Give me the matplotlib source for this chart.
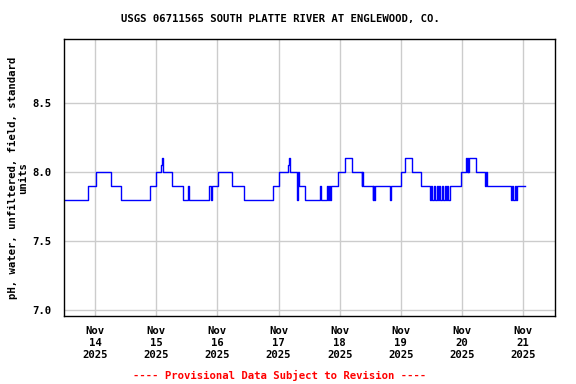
import matplotlib
matplotlib.use("Agg")
import matplotlib.pyplot as plt
import numpy as np

# step change points: hours after Nov 14 2025 00:00, pH value from that time on
hours = [-12.0, -2.6, 0.4, 6.3, 10.0, 21.7, 23.8, 26.0, 26.2, 26.5, 30.0, 34.6,
         36.4, 36.7, 44.8, 45.6, 45.8, 48.4, 53.7, 58.5, 69.9, 72.3, 75.9, 76.2,
         76.5, 79.2, 79.4, 79.6, 79.9, 82.4, 88.3, 88.6, 90.9, 91.5, 91.8, 92.1,
         92.5, 95.4, 98.2, 100.9, 104.6, 104.9, 105.2, 108.9, 109.2, 109.4, 109.9,
         115.7, 116.0, 119.9, 121.8, 124.3, 127.8,
         131.4, 132.0, 132.3, 133.0, 133.4, 134.2, 134.5, 135.1, 135.5, 136.3,
         136.6, 137.4, 137.7, 138.2, 138.7, 139.3, 140.0,
         143.7, 145.5, 145.9, 146.2, 146.5, 146.8, 149.5, 153.0, 153.3, 153.8,
         163.4, 163.8, 164.1, 164.7, 165.0, 165.6, 168.6]
ph = [7.8, 7.9, 8.0, 7.9, 7.8, 7.9, 8.0, 8.05, 8.1, 8.0, 7.9, 7.8,
      7.9, 7.8, 7.9, 7.8, 7.9, 8.0, 7.9, 7.8, 7.9, 8.0, 8.05, 8.1,
      8.0, 7.9, 7.8, 8.0, 7.9, 7.8, 7.9, 7.8, 7.9, 7.8, 7.9, 7.8,
      7.9, 8.0, 8.1, 8.0, 7.9, 8.0, 7.9, 7.8, 7.9, 7.8, 7.9,
      7.8, 7.9, 8.0, 8.1, 8.0, 7.9,
      7.8, 7.9, 7.8, 7.9, 7.8, 7.9, 7.8, 7.9, 7.8, 7.9,
      7.8, 7.9, 7.8, 7.9, 7.8, 7.9, 7.9,
      8.0, 8.1, 8.0, 8.1, 8.0, 8.1, 8.0, 7.9, 8.0, 7.9,
      7.8, 7.9, 7.8, 7.9, 7.8, 7.9, 7.9]

day_labels = ["Nov\n14\n2025", "Nov\n15\n2025", "Nov\n16\n2025", "Nov\n17\n2025",
              "Nov\n18\n2025", "Nov\n19\n2025", "Nov\n20\n2025", "Nov\n21\n2025"]
y_ticks = [7.0, 7.5, 8.0, 8.5]

mono = "DejaVu Sans Mono"
fs = 7.7
fig = plt.figure(figsize=(5.76, 3.84), dpi=100)
ax = fig.add_axes([64/576, 1-316/384, (555-64)/576, (316-39)/384])

ax.plot(hours, ph, drawstyle="steps-post", color="#0000ff", lw=1.0)

ax.set_xlim(-12.2, 180.5)
ax.set_ylim(6.957, 8.964)
ax.set_xticks(np.arange(len(day_labels)) * 24)
ax.set_xticklabels(day_labels, fontfamily=mono, fontweight="bold", fontsize=fs,
                   linespacing=1.25)
ax.set_yticks(y_ticks)
ax.set_yticklabels(["%.1f" % v for v in y_ticks], fontfamily=mono,
                   fontweight="bold", fontsize=fs)
ax.tick_params(axis="y", length=0, pad=9)
ax.tick_params(axis="x", length=0, pad=7)
ax.grid(True, color="#cccccc", lw=1.0)
ax.set_axisbelow(True)
for s in ax.spines.values():
    s.set_color("black")
    s.set_linewidth(1.0)

# y label placed by hand so it stays inside the figure
fig.text(18/576, 1-178/384, "pH, water, unfiltered, field, standard\nunits",
         rotation=90, ha="center", va="center", multialignment="center",
         fontfamily=mono, fontweight="bold", fontsize=fs, linespacing=1.0)

fig.text(0.486, 1-19/384, "USGS 06711565 SOUTH PLATTE RIVER AT ENGLEWOOD, CO.",
         ha="center", va="center", fontfamily=mono, fontweight="bold", fontsize=fs)
fig.text(0.486, 1-375/384, "---- Provisional Data Subject to Revision ----",
         ha="center", va="center", fontfamily=mono, fontweight="bold",
         fontsize=fs, color="red")

fig.savefig("out.png", dpi=100)
